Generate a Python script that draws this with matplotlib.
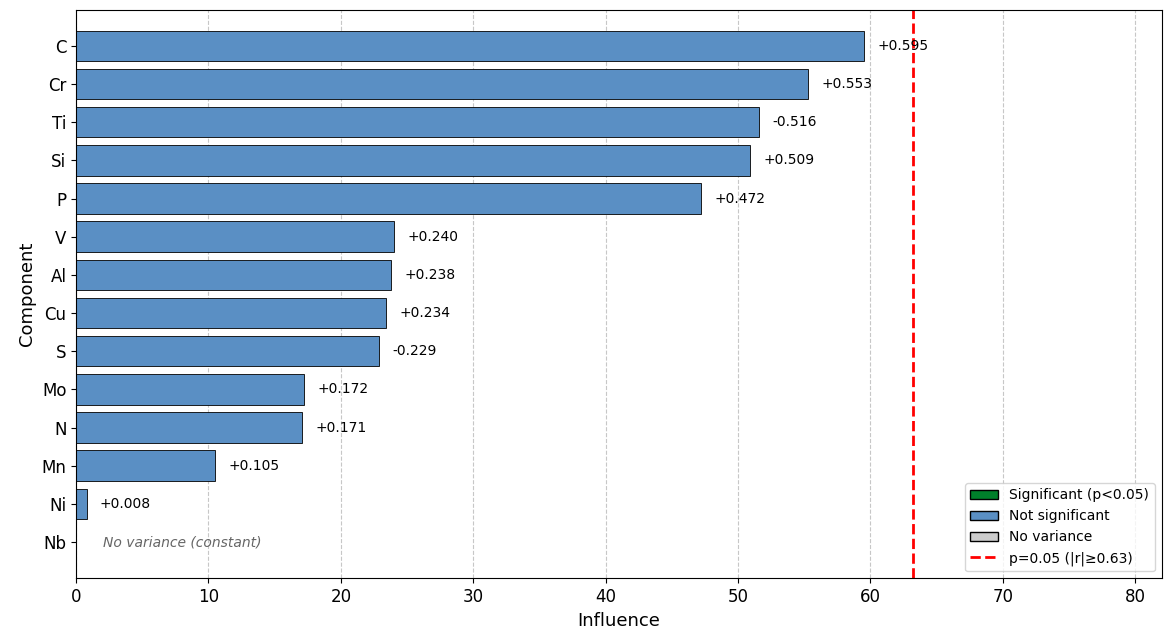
import numpy as np
import matplotlib.pyplot as plt
from matplotlib.patches import Patch
from matplotlib.lines import Line2D

components = ["C", "Cr", "Ti", "Si", "P", "V", "Al", "Cu", "S", "Mo", "N", "Mn", "Ni", "Nb"]
corr = [0.595, 0.553, -0.516, 0.509, 0.472, 0.240, 0.238, 0.234, -0.229, 0.172, 0.171, 0.105, 0.008, None]
threshold = 0.632

fig, ax = plt.subplots(figsize=(11.71, 6.39), dpi=100)
fig.subplots_adjust(left=0.065, right=0.992, top=0.985, bottom=0.095)

y = np.arange(len(components))
for i, r in enumerate(corr):
    if r is None:
        ax.text(2, i, "No variance (constant)", va="center", fontsize=10,
                style="italic", color="#666666")
        continue
    w = abs(r) * 100
    ax.barh(i, w, height=0.8, color="#5a8fc4", edgecolor="black", linewidth=0.6)
    ax.text(w + 1, i, f"{r:+.3f}", va="center", fontsize=10)

ax.axvline(threshold * 100, color="red", linestyle="--", linewidth=2)
ax.set_yticks(y)
ax.set_yticklabels(components, fontsize=12)
ax.invert_yaxis()
ax.set_ylim(len(components) - 0.05, -0.95)
ax.set_xlim(0, 82)
ax.tick_params(axis="x", labelsize=12)
ax.set_xlabel("Influence", fontsize=13)
ax.set_ylabel("Component", fontsize=13)
ax.grid(axis="x", linestyle="--", alpha=0.7)
ax.set_axisbelow(True)

handles = [
    Patch(facecolor="#00802b", edgecolor="black", label="Significant (p<0.05)"),
    Patch(facecolor="#5a8fc4", edgecolor="black", label="Not significant"),
    Patch(facecolor="#cccccc", edgecolor="black", label="No variance"),
    Line2D([0], [0], color="red", linestyle="--", linewidth=2, label="p=0.05 (|r|≥0.63)"),
]
ax.legend(handles=handles, loc="lower right", fontsize=10)

plt.savefig("out.png", dpi=100)
